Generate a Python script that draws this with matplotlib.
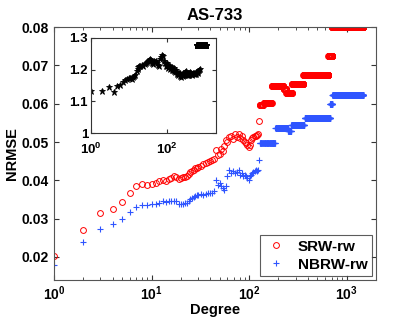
import numpy as np
import matplotlib
matplotlib.use('Agg')
import matplotlib.pyplot as plt
from matplotlib.ticker import NullLocator

plt.rcParams['font.family'] = ['Liberation Sans', 'DejaVu Sans']
plt.rcParams['font.weight'] = 'bold'
plt.rcParams['mathtext.fontset'] = 'custom'
plt.rcParams['mathtext.bf'] = 'Liberation Sans:bold'
plt.rcParams['mathtext.rm'] = 'Liberation Sans:bold'

# --- low degree part (one value per degree) ---
deg_low = [1, 2, 3, 4, 5, 6, 7, 8, 9, 10, 11, 12, 13, 14, 15, 16, 17, 18, 19, 20,
           21, 22, 23, 24, 25, 26, 27, 28, 29, 30, 32, 34, 36, 38, 40, 42, 44, 46,
           48, 50, 52, 54, 56, 58, 60, 63, 66, 69, 72, 75, 78, 81, 84, 87, 90, 93,
           96, 99, 102, 105, 108, 111, 114, 117, 120, 124, 127]
srw_low = [0.0203, 0.0270, 0.0314, 0.0324, 0.0344, 0.0366, 0.0386, 0.0390, 0.0389,
           0.0391, 0.0394, 0.0397, 0.0400, 0.0399, 0.0404, 0.0407, 0.0412, 0.0409,
           0.0403, 0.0407, 0.0409, 0.0408, 0.0412, 0.0416, 0.0421, 0.0425, 0.0428,
           0.0431, 0.0433, 0.0436, 0.0438, 0.0442, 0.0444, 0.0447, 0.0450, 0.0452,
           0.0455, 0.0478, 0.0466, 0.0470, 0.0483, 0.0476, 0.0490, 0.0505, 0.0500,
           0.0512, 0.0515, 0.0508, 0.0520, 0.0512, 0.0522, 0.0510, 0.0515, 0.0505,
           0.0500, 0.0497, 0.0492, 0.0488, 0.0493, 0.0505, 0.0510, 0.0514, 0.0516,
           0.0515, 0.0518, 0.0520, 0.0555]
nbrw_low = [0.0180, 0.0238, 0.0273, 0.0286, 0.0298, 0.0317, 0.0330, 0.0336, 0.0335,
            0.0337, 0.0338, 0.0340, 0.0345, 0.0344, 0.0346, 0.0347, 0.0346, 0.0345,
            0.0338, 0.0337, 0.0338, 0.0340, 0.0340, 0.0345, 0.0350, 0.0355, 0.0357,
            0.0359, 0.0361, 0.0362, 0.0364, 0.0363, 0.0365, 0.0366, 0.0366, 0.0368,
            0.0372, 0.0400, 0.0388, 0.0392, 0.0385, 0.0380, 0.0374, 0.0385, 0.0410,
            0.0427, 0.0420, 0.0425, 0.0418, 0.0422, 0.0426, 0.0415, 0.0420, 0.0412,
            0.0415, 0.0410, 0.0405, 0.0400, 0.0410, 0.0415, 0.0418, 0.0422, 0.0424,
            0.0427, 0.0425, 0.0426, 0.0453]

# --- high degree part: flat steps (first degree, last degree, value) ---
srw_steps = [(128, 140, 0.0596), (141, 170, 0.0603), (171, 225, 0.0645),
             (226, 240, 0.0637), (241, 275, 0.0628), (276, 360, 0.0652),
             (361, 650, 0.0674), (651, 710, 0.0724), (711, 1480, 0.0800)]
nbrw_steps = [(128, 185, 0.0497), (186, 250, 0.0537), (251, 270, 0.0528),
              (271, 370, 0.0544), (371, 680, 0.0562), (681, 715, 0.0600),
              (716, 1480, 0.0623)]

# --- inset: SRW / NBRW error ratio ---
ratio_deg = [1, 2, 3, 4, 5, 6, 7, 8, 9, 10, 11, 12, 13, 14, 15, 16, 17, 18, 19, 20,
             22, 24, 26, 28, 30, 32, 34, 36, 38, 40, 43, 46, 50, 53, 56, 60, 64, 68,
             72, 76, 80, 85, 90, 95, 100, 104, 107, 111, 115, 120, 125, 130, 135, 140,
             145, 152, 160, 168, 175, 182, 190, 200, 210, 220, 230, 240, 250, 262,
             275, 288, 300, 312, 325, 338, 350, 365, 380, 395, 410, 430, 450, 470,
             490, 510, 530, 555, 580, 605, 630, 655, 680, 710, 740]
ratio_val = [1.133, 1.133, 1.145, 1.130, 1.147, 1.152, 1.160, 1.166, 1.170, 1.175,
             1.173, 1.171, 1.176, 1.180, 1.183, 1.195, 1.203, 1.207, 1.210, 1.213,
             1.215, 1.212, 1.218, 1.220, 1.225, 1.228, 1.232, 1.235, 1.230, 1.222,
             1.218, 1.228, 1.225, 1.228, 1.222, 1.215, 1.213, 1.235, 1.240, 1.245,
             1.242, 1.228, 1.222, 1.210, 1.220, 1.212, 1.205, 1.215, 1.210, 1.202,
             1.212, 1.205, 1.198, 1.208, 1.200, 1.195, 1.205, 1.192, 1.198, 1.186,
             1.193, 1.184, 1.190, 1.180, 1.188, 1.178, 1.184, 1.180, 1.190, 1.183,
             1.193, 1.186, 1.195, 1.184, 1.190, 1.183, 1.191, 1.184, 1.192, 1.185,
             1.190, 1.183, 1.191, 1.186, 1.190, 1.185, 1.192, 1.187, 1.193, 1.190,
             1.196, 1.198, 1.203]
ratio_top = (620, 1100, 1.278)


def expand(low_deg, low_val, steps):
    d = list(low_deg)
    v = list(low_val)
    for a, b, val in steps:
        seg = np.arange(a, b + 1)
        d.extend(seg)
        v.extend([val] * len(seg))
    return np.array(d, dtype=float), np.array(v)


deg_s, srw = expand(deg_low, srw_low, srw_steps)
deg_n, nbrw = expand(deg_low, nbrw_low, nbrw_steps)
deg_r, ratio = expand(ratio_deg, ratio_val, [ratio_top])

fig = plt.figure(figsize=(4.15, 3.19), dpi=100)
ax = fig.add_axes([0.130, 0.1223, 0.776, 0.793])

ax.semilogx(deg_s, srw, 'o', color='red', mfc='none', ms=4.2, mew=0.7, label='SRW-rw')
ax.semilogx(deg_n, nbrw, '+', color='#2f55ff', ms=5, mew=0.8, label='NBRW-rw')

ax.set_xlim(1, 2000)
ax.set_ylim(0.014, 0.08)
ax.set_yticks([0.02, 0.03, 0.04, 0.05, 0.06, 0.07, 0.08])
ax.set_xticks([1, 10, 100, 1000])
ax.set_xticklabels([r'$\mathbf{10^{0}}$', r'$\mathbf{10^{1}}$',
                    r'$\mathbf{10^{2}}$', r'$\mathbf{10^{3}}$'])
ax.tick_params(which='both', direction='in', top=True, right=True,
               labelsize=10, colors='#333333', labelcolor='black')
ax.tick_params(which='major', length=3.5)
ax.tick_params(which='minor', length=2)
for s in ax.spines.values():
    s.set_color('#555555')
    s.set_linewidth(0.8)

ax.set_title('AS-733', fontsize=12, fontweight='bold', pad=5)
ax.set_xlabel('Degree', fontsize=10.5, fontweight='bold', labelpad=0)
ax.set_ylabel('NRMSE', fontsize=10.5, fontweight='bold', labelpad=2)

leg = ax.legend(loc='lower right', fontsize=11, frameon=True, fancybox=False,
                borderpad=0.3, handletextpad=0.6, labelspacing=0.25,
                borderaxespad=0.25, handlelength=1.6)
leg.get_frame().set_edgecolor('#333333')
leg.get_frame().set_linewidth(0.8)

ins = fig.add_axes([0.219, 0.583, 0.3015, 0.298])
ins.semilogx(deg_r, ratio, '*', color='black', ms=4.5, mew=0.6)
ins.set_xlim(1, 2000)
ins.set_ylim(1, 1.3)
ins.set_yticks([1, 1.1, 1.2, 1.3])
ins.set_yticklabels(['1', '1.1', '1.2', '1.3'])
ins.set_xticks([1, 100])
ins.set_xticklabels([r'$\mathbf{10^{0}}$', r'$\mathbf{10^{2}}$'])
ins.xaxis.set_minor_locator(NullLocator())
ins.tick_params(direction='in', top=True, right=True, labelsize=9.5, length=3,
                colors='#333333', labelcolor='black', pad=2)
ins.tick_params(axis='x', pad=6)
for s in ins.spines.values():
    s.set_color('#333333')
    s.set_linewidth(0.8)

fig.savefig('out.png', dpi=100)
